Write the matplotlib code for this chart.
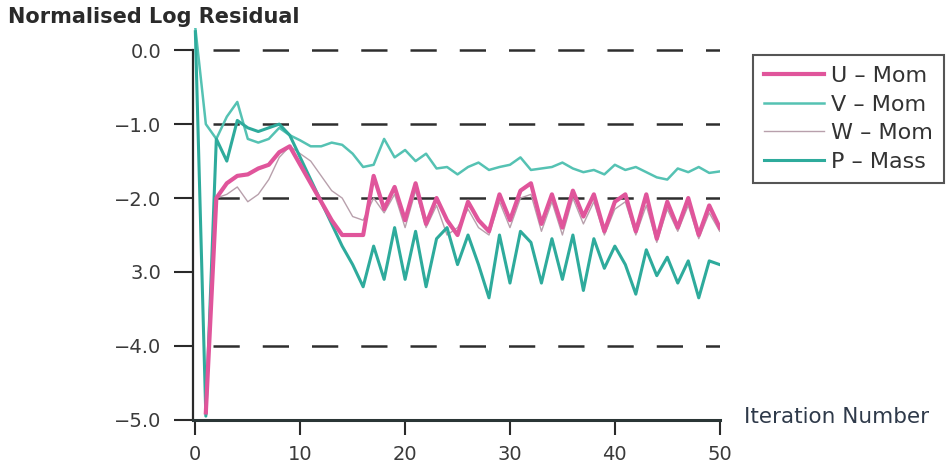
import matplotlib
matplotlib.use('Agg')
import matplotlib.pyplot as plt
import numpy as np

# iteration numbers
iters = list(range(0, 51))

# residuals (U and W start at iteration 1)
u_mom = [-4.9, -2.0, -1.8, -1.7, -1.68, -1.6, -1.55, -1.38, -1.3, -1.55,
         -1.8, -2.05, -2.3, -2.5, -2.5, -2.5, -1.7, -2.15, -1.85, -2.3,
         -1.8, -2.35, -2.0, -2.3, -2.5, -2.05, -2.3, -2.45, -1.95, -2.3,
         -1.9, -1.8, -2.35, -1.95, -2.4, -1.9, -2.25, -1.95, -2.45, -2.05,
         -1.95, -2.45, -1.95, -2.55, -2.05, -2.4, -2.0, -2.5, -2.1, -2.4]
w_mom = [-4.8, -2.0, -1.95, -1.85, -2.05, -1.95, -1.75, -1.45, -1.3, -1.4,
         -1.5, -1.7, -1.9, -2.0, -2.25, -2.3, -2.0, -2.2, -1.95, -2.4,
         -1.9, -2.4, -2.1, -2.5, -2.4, -2.15, -2.4, -2.5, -2.05, -2.4,
         -2.0, -1.95, -2.45, -2.05, -2.5, -2.0, -2.35, -2.05, -2.5, -2.15,
         -2.05, -2.5, -2.1, -2.6, -2.15, -2.45, -2.1, -2.55, -2.2, -2.45]
v_mom = [0.3, -1.0, -1.2, -0.9, -0.7, -1.2, -1.25, -1.2, -1.05, -1.15,
         -1.22, -1.3, -1.3, -1.25, -1.28, -1.4, -1.58, -1.55, -1.2, -1.45,
         -1.35, -1.5, -1.4, -1.6, -1.58, -1.68, -1.58, -1.52, -1.62, -1.58,
         -1.55, -1.45, -1.62, -1.6, -1.58, -1.52, -1.6, -1.65, -1.62, -1.68,
         -1.55, -1.62, -1.58, -1.65, -1.72, -1.75, -1.6, -1.65, -1.58, -1.66,
         -1.64]
p_mass = [0.25, -4.95, -1.2, -1.5, -0.95, -1.05, -1.1, -1.05, -1.0, -1.15,
          -1.45, -1.75, -2.05, -2.35, -2.65, -2.9, -3.2, -2.65, -3.1, -2.4,
          -3.1, -2.45, -3.2, -2.55, -2.4, -2.9, -2.5, -2.9, -3.35, -2.5,
          -3.15, -2.45, -2.6, -3.15, -2.55, -3.1, -2.5, -3.25, -2.55, -2.95,
          -2.65, -2.9, -3.3, -2.7, -3.05, -2.8, -3.15, -2.85, -3.35, -2.85,
          -2.9]

grid_levels = [0.0, -1.0, -2.0, -4.0]
y_ticks = [0.0, -1.0, -2.0, -3.0, -4.0, -5.0]
y_ticklabels = ['0.0', '\u22121.0', '\u22122.0', '3.0', '\u22124.0', '\u22125.0']
x_ticks = [0, 10, 20, 30, 40, 50]
x_ticklabels = ['0', '10', '20', '30', '40', '50']

fig = plt.figure(figsize=(9.52, 4.67), dpi=100)
ax = fig.add_axes([0.203, 0.101, 0.553, 0.839])

# dashed reference lines
ax.hlines(grid_levels, 1.7, 50, colors='#2e2e2e', linewidth=1.8,
          linestyles=(0, (10.5, 9.2)), zorder=1)

ax.plot(iters[1:], w_mom, color='#b8a0ac', linewidth=1.0, label='W \u2013 Mom', zorder=3)
ax.plot(iters, v_mom, color='#55c2b3', linewidth=1.8, label='V \u2013 Mom', zorder=3)
ax.plot(iters, p_mass, color='#2eab9c', linewidth=2.2, label='P \u2013 Mass', zorder=3)
ax.plot(iters[1:], u_mom, color='#e0559b', linewidth=3.0, label='U \u2013 Mom', zorder=4)

ax.set_xlim(-0.2, 50)
ax.set_ylim(-5, 0.3)

ax.spines['right'].set_color('none')
ax.spines['top'].set_color('none')
ax.spines['left'].set_bounds(-5, 0)
ax.spines['left'].set_linewidth(1.6)
ax.spines['left'].set_color('#2a2a2a')
ax.spines['bottom'].set_linewidth(2.2)
ax.spines['bottom'].set_color('#2a3535')

ax.set_yticks(y_ticks)
ax.set_yticklabels(y_ticklabels)
ax.set_xticks(x_ticks)
ax.set_xticklabels(x_ticklabels)
ax.tick_params(axis='y', direction='out', length=14, width=1.5, pad=9,
               labelsize=14, labelcolor='#3a3a3a', color='#2a2a2a')
ax.tick_params(axis='x', direction='out', length=11, width=1.5, pad=7,
               labelsize=14, labelcolor='#3a3a3a', color='#2a2a2a')

fig.text(0.008, 0.963, 'Normalised Log Residual', fontsize=15, fontweight='bold',
         color='#2a2a2a', ha='left', va='center')
fig.text(0.781, 0.107, 'Iteration Number', fontsize=15.5, color='#2f3a4a',
         ha='left', va='center')

# legend in original order
handles, labels = ax.get_legend_handles_labels()
order = [3, 1, 0, 2]
leg = ax.legend([handles[i] for i in order], [labels[i] for i in order],
                loc='upper left', bbox_to_anchor=(0.791, 0.882),
                bbox_transform=fig.transFigure, fontsize=16, frameon=True,
                fancybox=False, edgecolor='#2a2a2a', handlelength=2.7,
                handletextpad=0.3, labelspacing=0.38, borderpad=0.5,
                borderaxespad=0)
leg.get_frame().set_linewidth(1.5)
for t in leg.get_texts():
    t.set_color('#333333')

fig.savefig('out.png', dpi=100)
